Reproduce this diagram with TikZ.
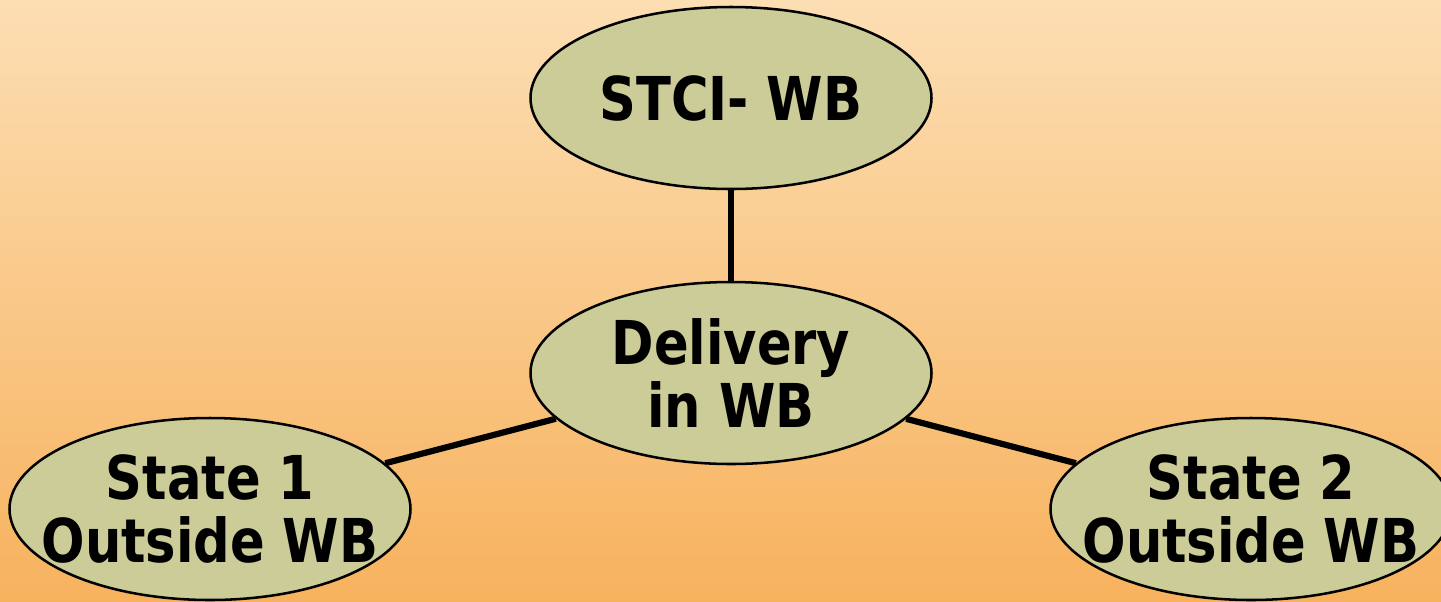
\documentclass[tikz,border=0pt]{standalone}
\usepackage{fontspec}
\setmainfont{DejaVu Sans Condensed}[FakeStretch=0.94]
\usepackage{tikz}
\usetikzlibrary{shapes.geometric}
\definecolor{peachtop}{HTML}{FCDEB3}
\definecolor{peachbot}{HTML}{F7B25E}
\definecolor{khaki}{HTML}{CCCC99}

\begin{document}
\begin{tikzpicture}[
  x=0.025cm, y=-0.025cm,
  font=\bfseries\fontsize{43}{45}\selectfont,
  bubble/.style={ellipse, draw=black, line width=1.8pt, fill=khaki, align=center,
    minimum width=401*0.025cm, minimum height=182*0.025cm,
    inner xsep=-0.8cm, inner ysep=0pt},
  link/.style={line width=4.4pt, black}
]
% background
\shade[top color=peachtop, bottom color=peachbot] (0,0) rectangle (1441,601);
\useasboundingbox (0,0) rectangle (1441,601);
% bubbles
\node[bubble] (stci)   at (731,98)   {STCI- WB};
\node[bubble] (deliv)  at (731,373)  {Delivery\\in WB};
\node[bubble] (state1) at (210,509)  {State 1\\Outside WB};
\node[bubble] (state2) at (1251,509) {State 2\\Outside WB};

\draw[link] (stci) -- (deliv);
\draw[link] (deliv) -- (state1);
\draw[link] (deliv) -- (state2);
\end{tikzpicture}
\end{document}
